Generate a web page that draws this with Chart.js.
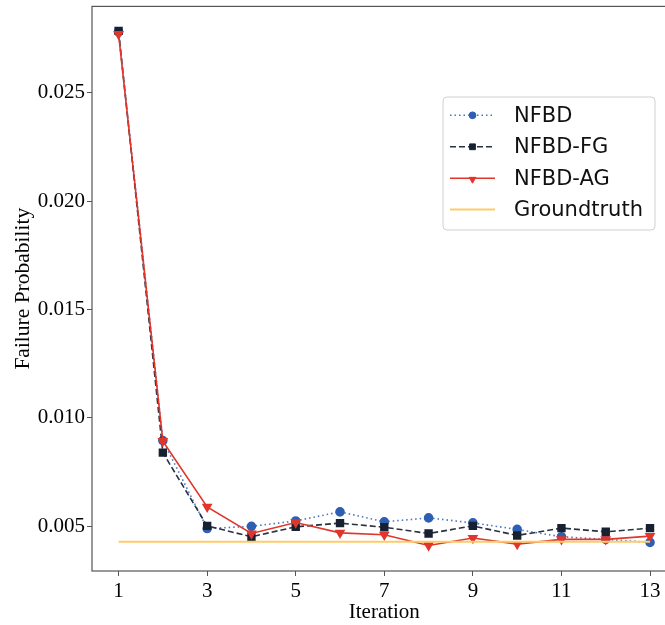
<!DOCTYPE html>
<html>
<head>
<meta charset="utf-8">
<script src="https://cdn.jsdelivr.net/npm/chart.js@4.4.0/dist/chart.umd.min.js"></script>
<style>
  html, body { margin: 0; padding: 0; background: #fff; overflow: hidden; }
  #wrap { width: 683px; height: 625px; }
</style>
</head>
<body>
<div id="wrap"><canvas id="grafico" width="683" height="625"></canvas></div>
<script>
// valores
const iteracoes = [1, 2, 3, 4, 5, 6, 7, 8, 9, 10, 11, 12, 13];
const nfbd   = [0.02780, 0.00895, 0.00489, 0.00499, 0.00524, 0.00566, 0.00520, 0.00538, 0.00515, 0.00485, 0.00451, 0.00439, 0.00425];
const nfbdFG = [0.02785, 0.00839, 0.00501, 0.00451, 0.00497, 0.00514, 0.00495, 0.00466, 0.00501, 0.00457, 0.00491, 0.00474, 0.00491];
const nfbdAG = [0.02770, 0.00892, 0.00589, 0.00466, 0.00517, 0.00469, 0.00460, 0.00411, 0.00445, 0.00417, 0.00439, 0.00439, 0.00454];
const groundtruth = 0.00428;
const ticksX = [1, 3, 5, 7, 9, 11, 13];
const ticksY = [0.005, 0.010, 0.015, 0.020, 0.025];

const serif = "'Liberation Serif', 'Times New Roman', serif";
const corEixo = "#555";

function pontos(valores) {
    let lista = [];
    for (let i = 0; i < iteracoes.length; i++) {
        lista.push({ x: iteracoes[i], y: valores[i] });
    }
    return lista;
}

// moldura completa (matplotlib desenha os 4 lados)
const moldura = {
    id: "moldura",
    afterDatasetsDraw(chart) {
        const a = chart.chartArea;
        const ctx = chart.ctx;
        ctx.save();
        ctx.strokeStyle = corEixo;
        ctx.lineWidth = 1.2;
        ctx.strokeRect(a.left, a.top, a.right - a.left, a.bottom - a.top);
        ctx.restore();
    }
};

// legenda no canto superior direito, desenhada à mão
const legenda = {
    id: "legenda",
    afterDraw(chart) {
        const ctx = chart.ctx;
        ctx.save();
        const bx = 443, by = 97, bw = 212, bh = 133, r = 4;
        ctx.beginPath();
        ctx.roundRect(bx, by, bw, bh, r);
        ctx.fillStyle = "rgba(255,255,255,0.85)";
        ctx.fill();
        ctx.strokeStyle = "#d0d0d0";
        ctx.lineWidth = 1;
        ctx.stroke();

        const linhasY = [115.3, 146.8, 178.3, 209.5];
        chart.data.datasets.forEach((ds, i) => {
            const y = linhasY[i];
            ctx.beginPath();
            ctx.setLineDash(ds.borderDash || []);
            ctx.strokeStyle = ds.borderColor;
            ctx.lineWidth = ds.borderWidth;
            ctx.moveTo(450, y);
            ctx.lineTo(495, y);
            ctx.stroke();
            ctx.setLineDash([]);
            if (ds.pointRadius > 0) {
                ctx.fillStyle = ds.pointBackgroundColor;
                ctx.strokeStyle = ds.pointBorderColor;
                ctx.lineWidth = 1;
                Chart.helpers.drawPoint(ctx, {
                    pointStyle: ds.pointStyle,
                    rotation: ds.pointRotation || 0,
                    radius: ds.pointRadius * 0.85,
                    borderWidth: 1
                }, 472.5, y + (ds.pointStyle === "triangle" ? 1 : 0));
            }
            ctx.fillStyle = "#111";
            ctx.font = "21px 'DejaVu Sans'";
            ctx.textBaseline = "middle";
            ctx.fillText(ds.label, 514, y + 1);
        });
        ctx.restore();
    }
};

new Chart(document.getElementById("grafico"), {
    type: "line",
    data: {
        datasets: [
            {
                label: "NFBD",
                data: pontos(nfbd),
                borderColor: "#4a74c4",
                borderWidth: 1.6,
                borderDash: [1.5, 3],
                pointStyle: "circle",
                pointRadius: 4,
                pointBackgroundColor: "#2f5fb3",
                pointBorderColor: "#2f5fb3",
                order: 4
            },
            {
                label: "NFBD-FG",
                data: pontos(nfbdFG),
                borderColor: "#2a3140",
                borderWidth: 1.6,
                borderDash: [6, 3],
                pointStyle: "rect",
                pointRadius: 4.8,
                pointBackgroundColor: "#172132",
                pointBorderColor: "#172132",
                order: 3
            },
            {
                label: "NFBD-AG",
                data: pontos(nfbdAG),
                borderColor: "#e0362c",
                borderWidth: 1.6,
                pointStyle: "triangle",
                pointRotation: 180,
                pointRadius: 4.6,
                pointBackgroundColor: "#e0362c",
                pointBorderColor: "#e0362c",
                order: 2
            },
            {
                label: "Groundtruth",
                data: [{ x: iteracoes[0], y: groundtruth }, { x: iteracoes[iteracoes.length - 1], y: groundtruth }],
                borderColor: "#fecb6a",
                borderWidth: 1.8,
                pointRadius: 0,
                order: 1
            }
        ]
    },
    options: {
        responsive: false,
        animation: false,
        events: [],
        layout: { padding: { top: 0, right: 2, left: 0, bottom: 0 } },
        plugins: {
            legend: { display: false },
            tooltip: { enabled: false }
        },
        elements: { line: { tension: 0 } },
        scales: {
            x: {
                type: "linear",
                min: 0.4,
                max: 13.6,
                afterFit: s => { s.height = 54; s.paddingLeft = 0; s.paddingRight = 0; },
                afterBuildTicks: s => { s.ticks = ticksX.map(v => ({ value: v })); },
                grid: { display: true, drawOnChartArea: false, color: corEixo, tickLength: 5, tickWidth: 1 },
                border: { display: false },
                ticks: { color: "#000", font: { family: serif, size: 21 }, padding: 3, maxRotation: 0 },
                title: { display: true, text: "Iteration", color: "#000", font: { family: serif, size: 21 }, padding: { top: 0, bottom: 0 } }
            },
            y: {
                min: 0.00293,
                max: 0.02898,
                afterFit: s => { s.width = 92; s.paddingTop = 0; s.paddingBottom = 0; },
                afterBuildTicks: s => { s.ticks = ticksY.map(v => ({ value: v })); },
                grid: { display: true, drawOnChartArea: false, color: corEixo, tickLength: 5, tickWidth: 1 },
                border: { display: false },
                ticks: { color: "#000", font: { family: serif, size: 21 }, padding: 2, callback: v => v.toFixed(3) },
                title: { display: true, text: "Failure Probability", color: "#000", font: { family: serif, size: 21.5 }, padding: { top: 10, bottom: 10 } }
            }
        }
    },
    plugins: [moldura, legenda]
});
</script>
</body>
</html>
